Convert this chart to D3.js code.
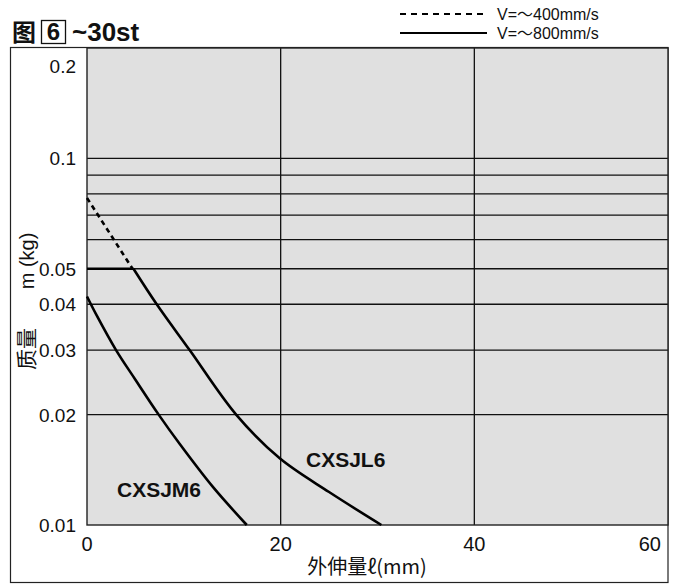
<!DOCTYPE html>
<html><head><meta charset="utf-8">
<script src="https://cdn.jsdelivr.net/npm/d3@7"></script>
<style>body{margin:0;background:#fff}svg{display:block}</style>
</head><body>
<svg id="c" width="675" height="585"></svg>
<script>
// ---- data ----
const xTicks = [0, 20, 40, 60];
const yTicks = [0.2, 0.1, 0.05, 0.04, 0.03, 0.02, 0.01];
const yGrid = [0.1, 0.09, 0.08, 0.07, 0.06, 0.05, 0.04, 0.03, 0.02];
const xGrid = [20, 40];
const jm6L = [0, 1, 3, 5, 7.4, 9.6, 13, 16.5];
const jm6M = [0.042, 0.0373, 0.03, 0.0249, 0.02, 0.0166, 0.0127, 0.01];
const jl6L = [4.8, 7.2, 10.6, 15.4, 19.9, 25, 30.4];
const jl6M = [0.05, 0.04, 0.03, 0.02, 0.0152, 0.0123, 0.01];
const jl6FlatL = [0, 4.8];
const jl6FlatM = [0.05, 0.05];
const jl6DashL = [0, 4.7];
const jl6DashM = [0.078, 0.05];
const legendLabels = ["V=\uFF5E400mm/s", "V=\uFF5E800mm/s"];

const svg = d3.select("#c");
const FONT = "'Liberation Sans', Arial, 'Noto Sans CJK SC', sans-serif";
const CJK = "'Liberation Sans', 'Noto Sans CJK SC', sans-serif";
const CJK2 = "'Noto Sans CJK SC', 'Liberation Sans', sans-serif";
const L = 87, R = 668, T = 48, B = 525;
const x = d3.scaleLinear().domain([0, 60]).range([L, R]);
const y = d3.scaleLog().domain([0.01, 0.2]).range([B, T]);

// outer frame
svg.append("rect").attr("x", 10.5).attr("y", 47.5).attr("width", 657.5).attr("height", 535)
  .attr("fill", "none").attr("stroke", "#222").attr("stroke-width", 1.2);
// plot background
svg.append("rect").attr("x", L).attr("y", T).attr("width", R - L).attr("height", B - T)
  .attr("fill", "#e0e0e0");

// grid
svg.selectAll(".hg").data(yGrid).enter().append("line")
  .attr("x1", L).attr("x2", R).attr("y1", d => y(d)).attr("y2", d => y(d))
  .attr("stroke", "#111").attr("stroke-width", 1.3);
svg.selectAll(".vg").data(xGrid).enter().append("line")
  .attr("y1", T).attr("y2", B).attr("x1", d => x(d)).attr("x2", d => x(d))
  .attr("stroke", "#111").attr("stroke-width", 1.3);
svg.append("rect").attr("x", L).attr("y", T).attr("width", R - L).attr("height", B - T)
  .attr("fill", "none").attr("stroke", "#222").attr("stroke-width", 1.4);

// y tick labels
svg.selectAll(".yt").data(yTicks).enter().append("text")
  .attr("x", 76).attr("y", d => y(d) + (d === 0.2 ? 18 : 0) + 7)
  .attr("text-anchor", "end").attr("font-family", FONT).attr("font-size", 19)
  .attr("fill", "#111").text(d => d);
// x tick labels
svg.selectAll(".xt").data(xTicks).enter().append("text")
  .attr("x", d => d === 60 ? x(d) - 7 : x(d))
  .attr("y", 551)
  .attr("text-anchor", d => d === 60 ? "end" : "middle")
  .attr("font-family", FONT).attr("font-size", 20).attr("fill", "#111").text(d => d);

// curves
const line = d3.line().x(d => x(d[0])).y(d => y(d[1])).curve(d3.curveCatmullRom.alpha(0.5));
const zip = (a, b) => a.map((v, i) => [v, b[i]]);
const drawCurve = (pts, dash) => svg.append("path").attr("d", line(pts))
  .attr("fill", "none").attr("stroke", "#000").attr("stroke-width", 2.6)
  .attr("stroke-dasharray", dash || null);
drawCurve(zip(jm6L, jm6M));
drawCurve(zip(jl6L, jl6M));
drawCurve(zip(jl6FlatL, jl6FlatM));
drawCurve(zip(jl6DashL, jl6DashM), "5,4");

// curve labels
svg.append("text").attr("x", 117).attr("y", 497).attr("font-family", FONT)
  .attr("font-weight", "bold").attr("font-size", 21).attr("fill", "#111").text("CXSJM6");
svg.append("text").attr("x", 306).attr("y", 467).attr("font-family", FONT)
  .attr("font-weight", "bold").attr("font-size", 21).attr("fill", "#111").text("CXSJL6");

// axis titles
svg.append("text").attr("x", 367).attr("y", 574).attr("text-anchor", "middle")
  .attr("font-family", CJK2).attr("font-size", 20).attr("fill", "#111").text("外伸量ℓ(mm)");
svg.append("text").attr("transform", "translate(34,349) rotate(-90)").attr("text-anchor", "middle")
  .attr("font-family", CJK).attr("font-size", 21).attr("fill", "#111").text("质量");
svg.append("text").attr("transform", "translate(34,261) rotate(-90)").attr("text-anchor", "middle")
  .attr("font-family", FONT).attr("font-size", 20).attr("fill", "#111").text("m (kg)");

// title
svg.append("text").attr("x", 12).attr("y", 41).attr("font-family", CJK)
  .attr("font-weight", "bold").attr("font-size", 24).attr("fill", "#111").text("图");
svg.append("rect").attr("x", 41.5).attr("y", 20.5).attr("width", 24).attr("height", 23)
  .attr("fill", "none").attr("stroke", "#111").attr("stroke-width", 1.3);
svg.append("text").attr("x", 53.5).attr("y", 40).attr("text-anchor", "middle").attr("font-family", FONT)
  .attr("font-weight", "bold").attr("font-size", 24).attr("fill", "#111").text("6");
svg.append("text").attr("x", 72).attr("y", 41).attr("font-family", FONT)
  .attr("font-weight", "bold").attr("font-size", 26).attr("fill", "#111").text("~30st");

// legend
const lg = svg.append("g");
[0, 1].forEach(i => {
  const yy = 14 + i * 19;
  lg.append("line").attr("x1", 400).attr("x2", 487).attr("y1", yy).attr("y2", yy)
    .attr("stroke", "#000").attr("stroke-width", 2)
    .attr("stroke-dasharray", i === 0 ? "6,5" : null);
  lg.append("text").attr("x", 497).attr("y", yy + 6).attr("font-family", FONT)
    .attr("font-size", 16).attr("fill", "#111").text(legendLabels[i]);
});
</script>
</body></html>
